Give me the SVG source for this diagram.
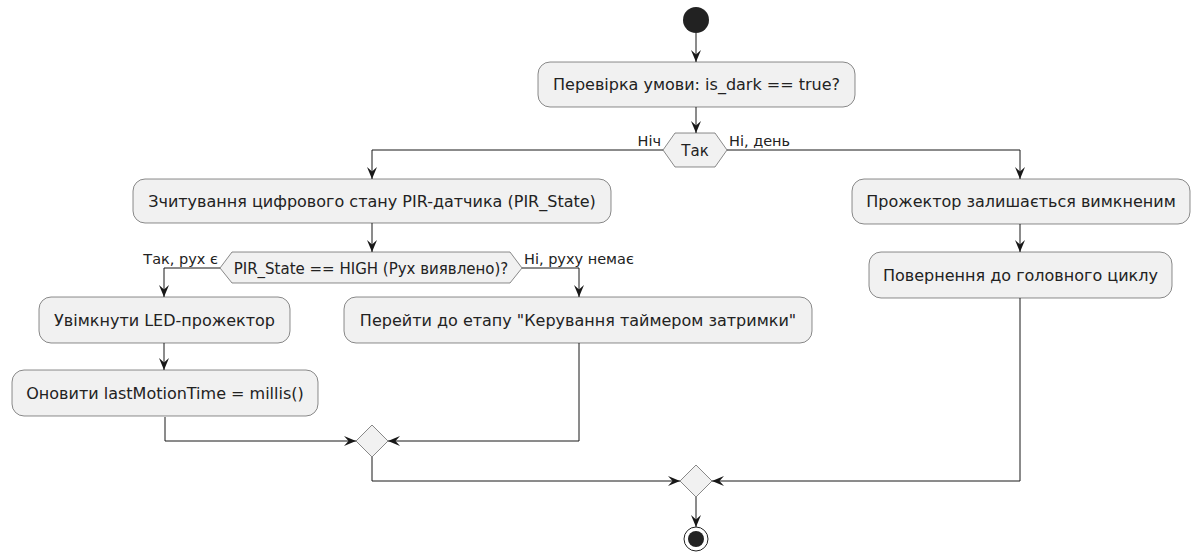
<svg xmlns="http://www.w3.org/2000/svg" width="1195" height="553" viewBox="0 0 1195 553">
<style>
.box{fill:#F1F1F1;stroke:#181818;stroke-width:0.5}
.t{font-family:"DejaVu Sans",sans-serif;font-size:16px;fill:#222;text-anchor:middle}
.dt{font-family:"DejaVu Sans",sans-serif;font-size:15px;fill:#222;text-anchor:middle}
.l{font-family:"DejaVu Sans",sans-serif;font-size:14.5px;fill:#222}
.c{fill:none;stroke:#181818;stroke-width:1}
</style>
<defs>
<marker id="a" viewBox="0 0 12 10" refX="12" refY="5" markerWidth="12" markerHeight="10" markerUnits="userSpaceOnUse" orient="auto">
<path d="M0,0 L12,5 L0,10 L4.5,5 z" fill="#181818"/>
</marker>
</defs>
<rect width="1195" height="553" fill="#fff"/>
<g id="connectors">
<path class="c" d="M696,33 V62" marker-end="url(#a)"/>
<path class="c" d="M696,107 V133" marker-end="url(#a)"/>
<path class="c" d="M663,150 H372 V179" marker-end="url(#a)"/>
<path class="c" d="M727,150 H1020 V179" marker-end="url(#a)"/>
<path class="c" d="M372,223 V252" marker-end="url(#a)"/>
<path class="c" d="M220,268 H164 V297" marker-end="url(#a)"/>
<path class="c" d="M522,268 H579 V297" marker-end="url(#a)"/>
<path class="c" d="M164,343 V370" marker-end="url(#a)"/>
<path class="c" d="M165,417 V441 H356" marker-end="url(#a)"/>
<path class="c" d="M579,343 V441 H388" marker-end="url(#a)"/>
<path class="c" d="M1020,224 V252" marker-end="url(#a)"/>
<path class="c" d="M372,457 V481 H680" marker-end="url(#a)"/>
<path class="c" d="M1020,298 V481 H712" marker-end="url(#a)"/>
<path class="c" d="M696,497 V527" marker-end="url(#a)"/>
<text class="l" x="661" y="146" text-anchor="end">Ніч</text>
<text class="l" x="729" y="146">Ні, день</text>
<text class="l" x="218" y="264" text-anchor="end">Так, рух є</text>
<text class="l" x="524" y="264">Ні, руху немає</text>
</g>
<g id="start"><circle cx="696" cy="20" r="13" fill="#222"/></g>
<g id="check"><rect class="box" x="538" y="62" width="317" height="45" rx="12"/><text class="t" x="696.5" y="90">Перевірка умови: is_dark == true?</text></g>
<g id="d1"><polygon class="box" points="663,150 675,133 715,133 727,150 715,167 675,167"/><text class="dt" x="695" y="155.5">Так</text></g>
<g id="read"><rect class="box" x="133" y="179" width="478" height="44" rx="12"/><text class="t" x="372" y="206.5">Зчитування цифрового стану PIR-датчика (PIR_State)</text></g>
<g id="d2"><polygon class="box" points="220,268 232,252 510,252 522,268 510,283 232,283"/><text class="dt" x="371" y="273.5">PIR_State == HIGH (Рух виявлено)?</text></g>
<g id="led"><rect class="box" x="39" y="297" width="251" height="46" rx="12"/><text class="t" x="164.5" y="325.5">Увімкнути LED-прожектор</text></g>
<g id="update"><rect class="box" x="12" y="370" width="306" height="46" rx="12"/><text class="t" x="165" y="398.5">Оновити lastMotionTime = millis()</text></g>
<g id="goto"><rect class="box" x="344" y="297" width="468" height="46" rx="12"/><text class="t" x="578" y="325.5">Перейти до етапу "Керування таймером затримки"</text></g>
<g id="off"><rect class="box" x="852" y="179" width="338" height="45" rx="12"/><text class="t" x="1021" y="206.5">Прожектор залишається вимкненим</text></g>
<g id="back"><rect class="box" x="869" y="252" width="303" height="46" rx="12"/><text class="t" x="1020.5" y="280.5">Повернення до головного циклу</text></g>
<g id="m1"><polygon class="box" points="372,425 388,441 372,457 356,441"/></g>
<g id="m2"><polygon class="box" points="696,465 712,481 696,497 680,481"/></g>
<g id="end"><circle cx="696" cy="539" r="12" fill="#fff" stroke="#222" stroke-width="1"/><circle cx="696" cy="539" r="8" fill="#222"/></g>
</svg>
